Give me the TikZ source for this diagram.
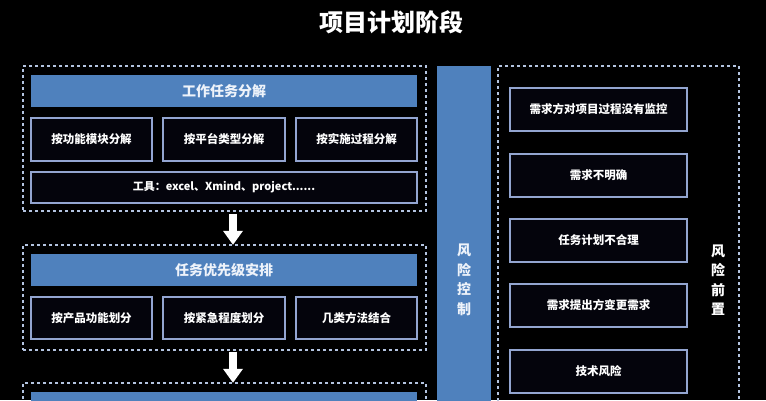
\documentclass[tikz,border=0pt]{standalone}
\usepackage{fontspec}
\newfontfamily\cjk{Noto Sans CJK SC}
\usetikzlibrary{arrows.meta}
\definecolor{hblue}{HTML}{4F81BD}
\definecolor{bline}{HTML}{93A5D0}
\definecolor{dline}{HTML}{B4C4E0}
\definecolor{htext}{HTML}{EEF3FA}
\definecolor{boxbg}{HTML}{04040C}
\tikzset{
  grp/.style={draw=dline, line width=1.3pt, dash pattern=on 3pt off 3pt, inner sep=0pt},
  head/.style={fill=hblue, draw=none, inner sep=0pt, text=htext, font=\cjk\bfseries\fontsize{14}{16}\selectfont},
  sub/.style={draw=bline, line width=1.3pt, fill=boxbg, inner sep=0pt, text=white, font=\cjk\bfseries\fontsize{11.5}{14}\selectfont},
  vert/.style={align=center, inner sep=0pt, font=\cjk\bfseries\fontsize{14}{19.5}\selectfont},
  bigarrow/.style={draw=white, line width=7.5pt, -{Triangle[width=19pt,length=14pt]}, shorten >=-0.5pt},
}
\begin{document}
\begin{tikzpicture}[x=1pt,y=-1pt]
\fill[black] (0,0) rectangle (766,400);
\clip (0,0) rectangle (766,400);
\useasboundingbox (0,0) rectangle (766,400);

\node[text=white, font=\cjk\bfseries\fontsize{24}{28}\selectfont] (title) at (391,22) {项目计划阶段};

% group 1
\node[grp, minimum width=403pt, minimum height=145pt] (d1) at (224.5,138.5) {};
\node[head, minimum width=386pt, minimum height=32pt] (h1) at (224,91) {工作任务分解};
\node[sub, minimum width=121pt, minimum height=43pt] (b11) at (91.5,139.5) {按功能模块分解};
\node[sub, minimum width=122pt, minimum height=43pt] (b12) at (224,139.5) {按平台类型分解};
\node[sub, minimum width=121pt, minimum height=43pt] (b13) at (356.5,139.5) {按实施过程分解};
\node[sub, minimum width=386pt, minimum height=31pt, font=\cjk\bfseries\fontsize{11}{14}\selectfont] (t1) at (224,187.5) {工具：excel、Xmind、project......};

% group 2
\node[grp, minimum width=403pt, minimum height=105pt] (d2) at (224.5,297.5) {};
\node[head, minimum width=386pt, minimum height=32pt] (h2) at (224,270) {任务优先级安排};
\node[sub, minimum width=121pt, minimum height=42pt] (b21) at (91.5,318) {按产品功能划分};
\node[sub, minimum width=122pt, minimum height=42pt] (b22) at (224,318) {按紧急程度划分};
\node[sub, minimum width=121pt, minimum height=42pt] (b23) at (356.5,318) {几类方法结合};

% group 3 (cut off)
\node[grp, minimum width=403pt, minimum height=57pt] (d3) at (224.5,411.5) {};
\node[head, minimum width=386pt, minimum height=48pt] (h3) at (224,416) {};

% arrows
\draw[bigarrow] ([xshift=8.5pt,yshift=-2pt]d1.south) -- ([xshift=8.5pt]d2.north);
\draw[bigarrow] ([xshift=8.5pt,yshift=-1pt]d2.south) -- ([xshift=8.5pt]d3.north);

% risk control bar
\node[fill=hblue, inner sep=0pt, minimum width=54pt, minimum height=374pt] (bar) at (464,253) {};
\node[vert, text=htext] (barlabel) at (464,280) {风\\险\\控\\制};

% risk front group
\node[grp, minimum width=241pt, minimum height=374pt] (d4) at (618.5,253) {};
\node[sub, minimum width=177pt, minimum height=43pt] (r1) at (598.5,109.5) {需求方对项目过程没有监控};
\node[sub, minimum width=177pt, minimum height=43pt] (r2) at (598.5,175.5) {需求不明确};
\node[sub, minimum width=177pt, minimum height=43pt] (r3) at (598.5,240.5) {任务计划不合理};
\node[sub, minimum width=177pt, minimum height=43pt] (r4) at (598.5,305.5) {需求提出方变更需求};
\node[sub, minimum width=177pt, minimum height=43pt] (r5) at (598.5,371.5) {技术风险};
\node[vert, text=white] (d4label) at (718,280) {风\\险\\前\\置};
\end{tikzpicture}
\end{document}
